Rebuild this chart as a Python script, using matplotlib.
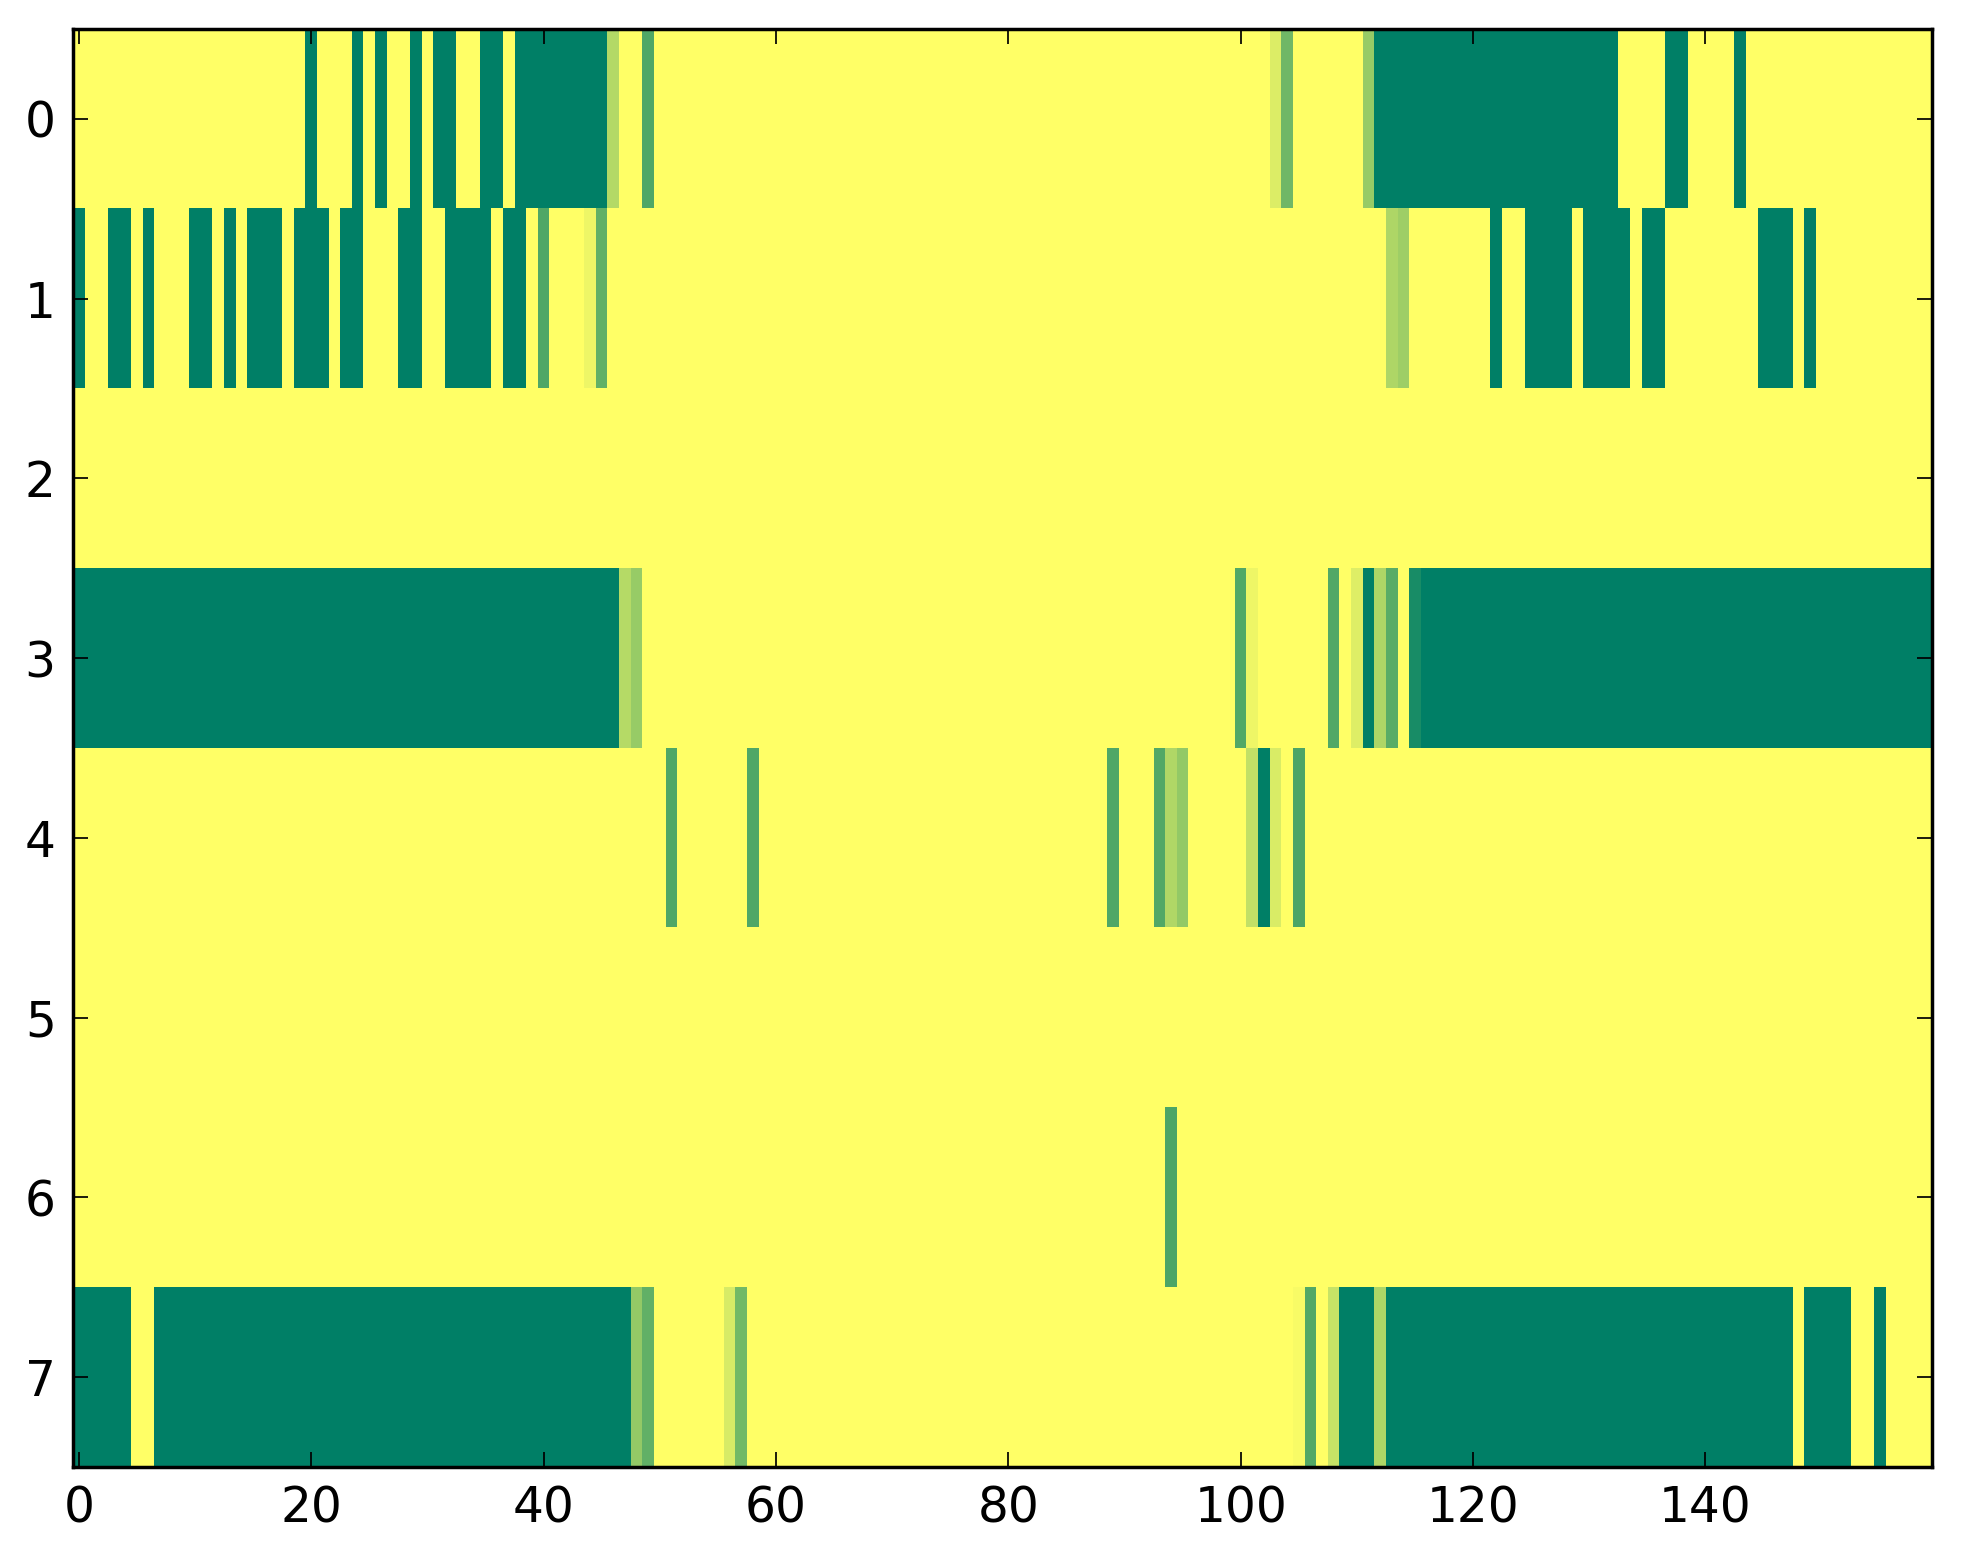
import matplotlib

matplotlib.use("Agg")

import matplotlib.pyplot as plt
import numpy as np

N_COLS = 160

# each row: (first column, last column, value); value 1 = dark green, 0 = yellow
row_0 = [(20, 20, 1.0), (24, 24, 1.0), (26, 26, 1.0), (29, 29, 1.0), (31, 32, 1.0),
         (35, 36, 1.0), (38, 45, 1.0), (46, 46, 0.30), (49, 49, 0.69),
         (103, 103, 0.14), (104, 104, 0.56), (111, 111, 0.41), (112, 132, 1.0),
         (137, 138, 1.0), (143, 143, 1.0)]
row_1 = [(0, 0, 1.0), (3, 4, 1.0), (6, 6, 1.0), (10, 11, 1.0), (13, 13, 1.0),
         (15, 17, 1.0), (19, 21, 1.0), (23, 24, 1.0), (28, 29, 1.0), (32, 35, 1.0),
         (37, 38, 1.0), (40, 40, 0.69), (44, 44, 0.07), (45, 45, 0.62),
         (113, 113, 0.32), (114, 114, 0.38), (122, 122, 1.0), (125, 128, 1.0),
         (130, 133, 1.0), (135, 136, 1.0), (145, 147, 1.0), (149, 149, 1.0)]
row_2 = []
row_3 = [(0, 46, 1.0), (47, 47, 0.29), (48, 48, 0.41), (100, 100, 0.68),
         (101, 101, 0.07), (108, 108, 0.68), (110, 110, 0.13), (111, 111, 1.0),
         (112, 112, 0.32), (113, 113, 0.65), (115, 115, 0.90), (116, 159, 1.0)]
row_4 = [(51, 51, 0.69), (58, 58, 0.69), (89, 89, 0.69), (93, 93, 0.68),
         (94, 94, 0.31), (95, 95, 0.42), (101, 101, 0.24), (102, 102, 1.0),
         (103, 103, 0.15), (105, 105, 0.70)]
row_5 = []
row_6 = [(94, 94, 0.70)]
row_7 = [(0, 4, 1.0), (7, 47, 1.0), (48, 48, 0.42), (49, 49, 0.62), (56, 56, 0.16),
         (57, 57, 0.55), (105, 105, 0.03), (106, 106, 0.68), (108, 108, 0.22),
         (109, 111, 1.0), (112, 112, 0.32), (113, 147, 1.0), (149, 152, 1.0),
         (155, 155, 1.0)]

rows = [row_0, row_1, row_2, row_3, row_4, row_5, row_6, row_7]


def build_matrix(rows):
    data = np.zeros((len(rows), N_COLS))
    for i, segments in enumerate(rows):
        for first, last, value in segments:
            data[i, first:last + 1] = value
    return data


data = build_matrix(rows)

fig = plt.figure(figsize=(1963 / 250, 1564 / 250), dpi=250, facecolor="white")
ax = fig.add_axes([73 / 1963, 97 / 1564, 1859 / 1963, 1438 / 1564])

ax.imshow(data, cmap="summer_r", vmin=0, vmax=1, aspect="auto", interpolation="nearest")

ax.set_xticks(np.arange(0, 141, 20))
ax.set_yticks(np.arange(0, 8))
ax.tick_params(direction="in", top=True, right=True, length=4.3, width=0.5,
               labelsize=14, pad=5)
for spine in ax.spines.values():
    spine.set_linewidth(1.0)

fig.savefig("out.png", dpi=250, facecolor="white")
